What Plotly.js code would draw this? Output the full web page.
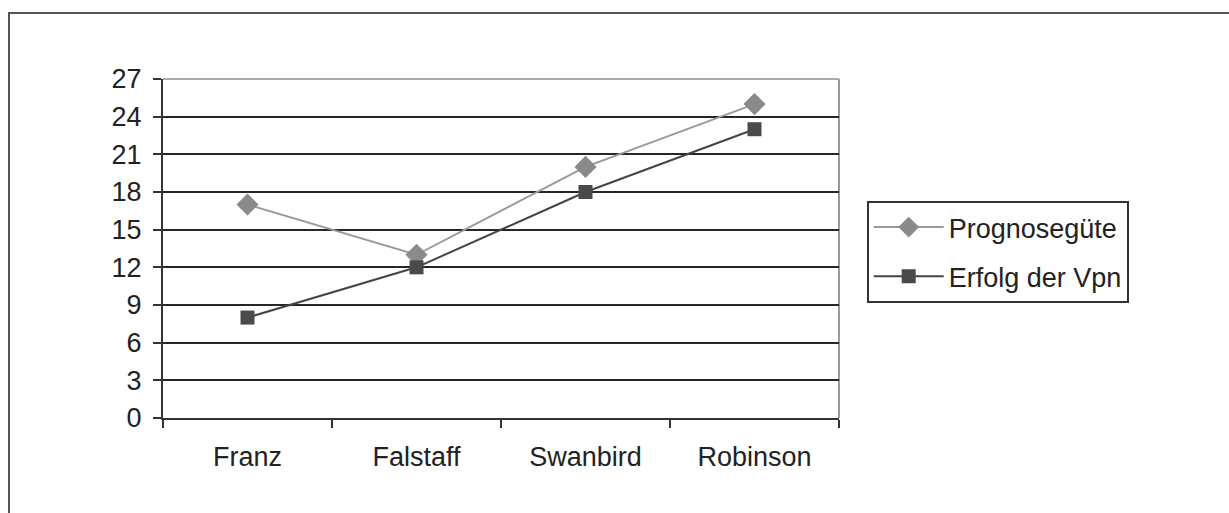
<!DOCTYPE html>
<html>
<head>
<meta charset="utf-8">
<script src="https://cdn.plot.ly/plotly-3.0.1.min.js"></script>
<style>
  html, body { margin: 0; padding: 0; background: #fff; }
  #chart { position: absolute; left: 0; top: 0; width: 1229px; height: 513px; }
  #frame { position: absolute; left: 8px; top: 12px; width: 1300px; height: 600px;
           border-left: 2px solid #555; border-top: 2px solid #555; pointer-events: none; }
</style>
</head>
<body>
<div id="chart"></div>
<div id="frame"></div>
<script>
const categories = ["Franz", "Falstaff", "Swanbird", "Robinson"];
const prognoseguete = [17, 13, 20, 25];
const erfolgDerVpn = [8, 12, 18, 23];
const yTicks = [0, 3, 6, 9, 12, 15, 18, 21, 24, 27];

const fontFam = "Liberation Sans, Arial, sans-serif";

const traces = [
  {
    x: categories, y: prognoseguete, name: "Prognosegüte",
    type: "scatter", mode: "lines+markers", legendgroup: "a",
    line: { color: "#9a9a9a", width: 2 },
    marker: { symbol: "diamond", size: 17, color: "#8a8a8a" }
  },
  {
    x: categories, y: erfolgDerVpn, name: "Erfolg der Vpn",
    type: "scatter", mode: "lines+markers", legendgroup: "b",
    line: { color: "#444", width: 2 },
    marker: { symbol: "square", size: 14, color: "#4a4a4a" }
  }
];

const layout = {
  width: 1229, height: 513,
  margin: { l: 163, r: 390, t: 79, b: 95 },
  paper_bgcolor: "#fff", plot_bgcolor: "#fff",
  font: { family: fontFam, size: 27, color: "#222" },
  showlegend: true,
  legend: {
    x: 1.041, y: 0.640, xanchor: "left", yanchor: "top",
    bordercolor: "#333", borderwidth: 2,
    font: { family: fontFam, size: 27, color: "#222" },
    traceorder: "grouped", tracegroupgap: 11,
    itemwidth: 70
  },
  xaxis: {
    type: "category", categoryorder: "array", categoryarray: categories,
    range: [-0.5, 3.5],
    showgrid: false, zeroline: false,
    showline: true, linecolor: "#333", linewidth: 2,
    ticks: "outside", tickson: "boundaries", ticklen: 8, tickwidth: 2, tickcolor: "#333",
    ticklabelstandoff: 14,
    tickfont: { family: fontFam, size: 27, color: "#222" }
  },
  yaxis: {
    range: [0, 27], tickvals: yTicks, ticktext: yTicks.map(String),
    showgrid: true, gridcolor: "#262626", gridwidth: 2,
    zeroline: false,
    showline: true, linecolor: "#333", linewidth: 2,
    ticks: "outside", ticklen: 8, tickwidth: 2, tickcolor: "#333",
    ticklabelstandoff: 6,
    tickfont: { family: fontFam, size: 27, color: "#222" }
  },
  shapes: [
    { type: "line", xref: "paper", yref: "paper", x0: 0, x1: 1, y0: 1, y1: 1,
      line: { color: "#aaa", width: 2 }, layer: "above" },
    { type: "line", xref: "paper", yref: "paper", x0: 1, x1: 1, y0: 0, y1: 1,
      line: { color: "#999", width: 2 }, layer: "below" }
  ],
  hovermode: false
};

Plotly.newPlot("chart", traces, layout, { displayModeBar: false, staticPlot: true });
</script>
</body>
</html>
